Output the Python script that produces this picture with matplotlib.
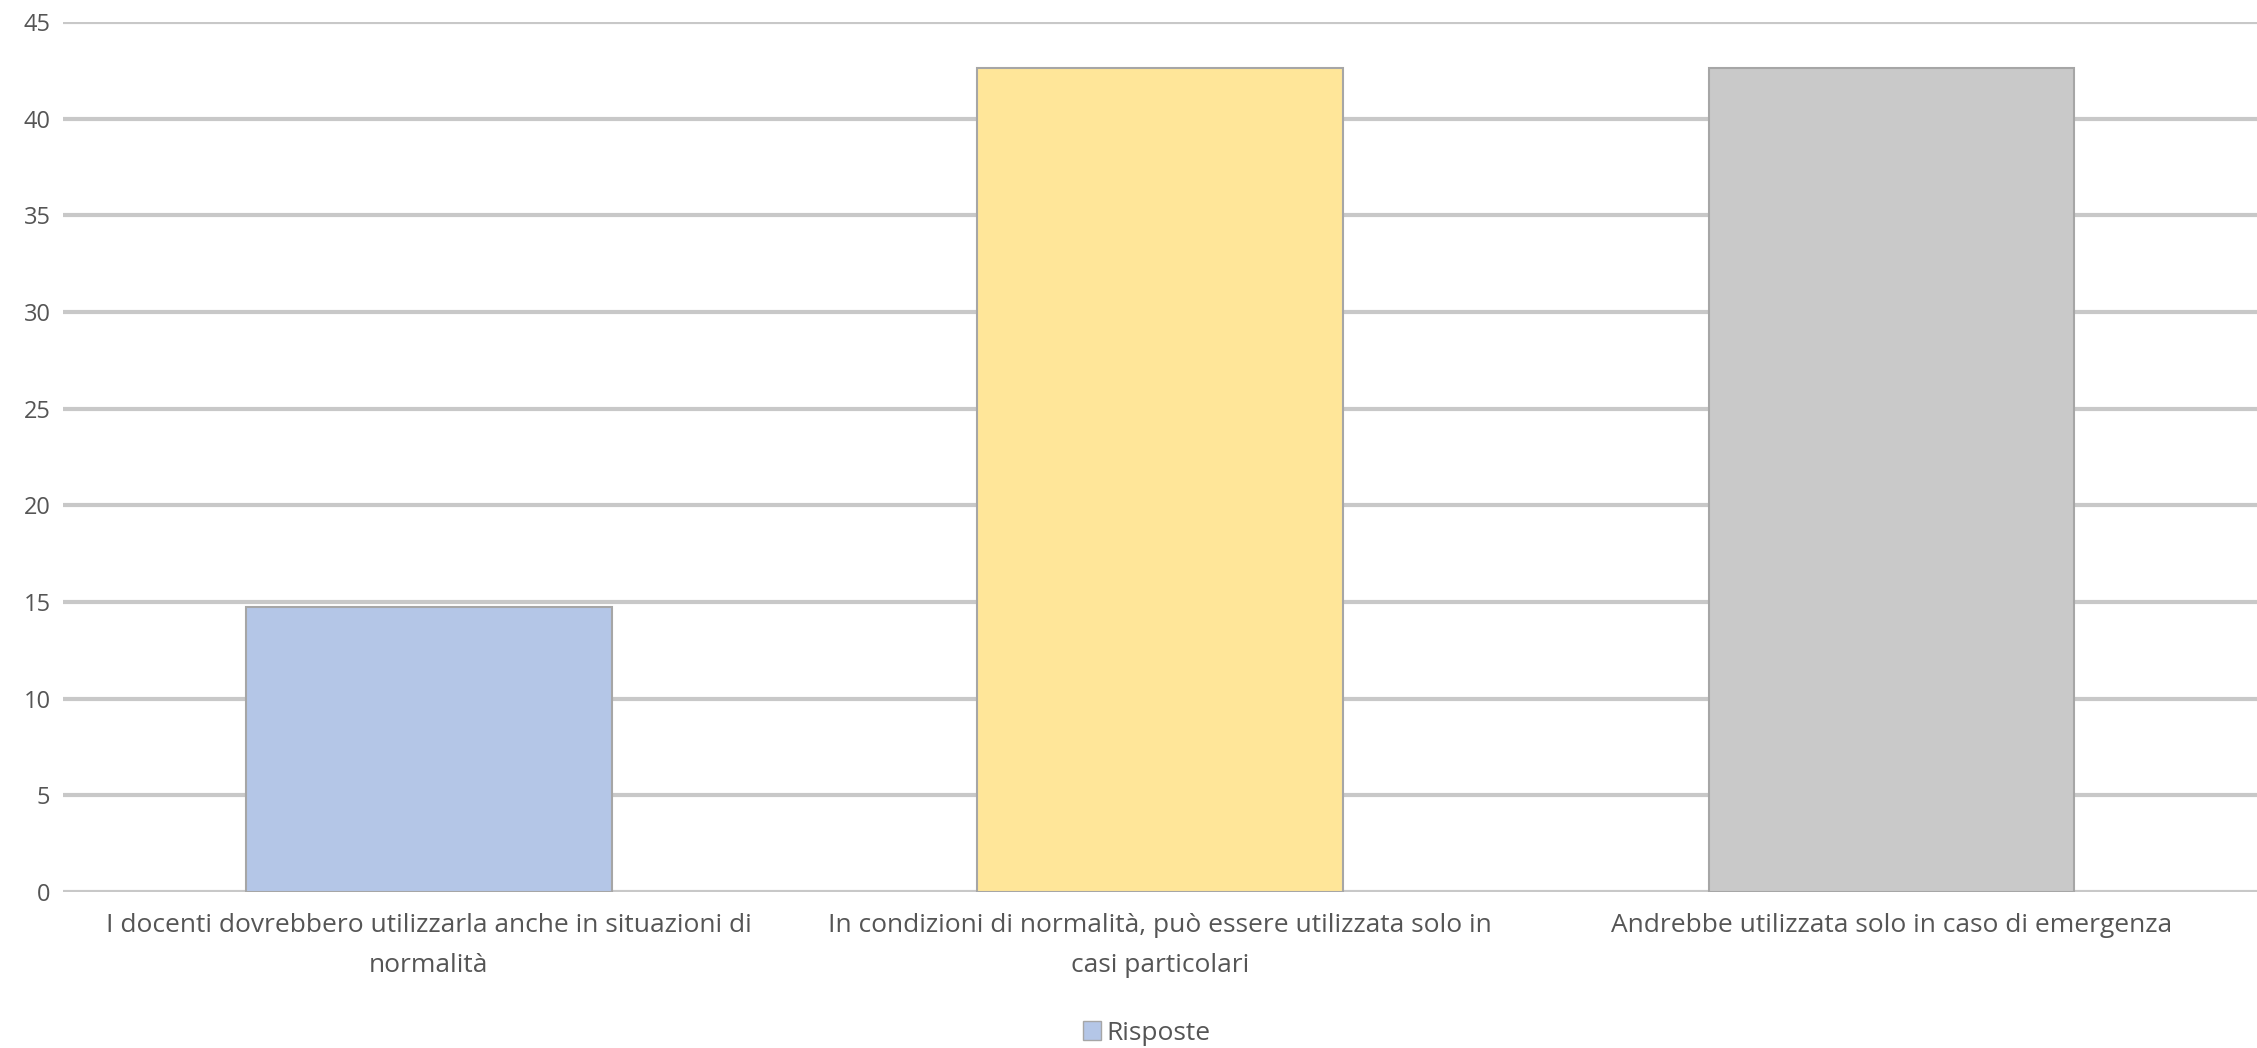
import matplotlib
matplotlib.use("Agg")
import matplotlib.pyplot as plt
from matplotlib.patches import Patch
import numpy as np

categories = [
    "I docenti dovrebbero utilizzarla anche in situazioni di\nnormalità",
    "In condizioni di normalità, può essere utilizzata solo in\ncasi particolari",
    "Andrebbe utilizzata solo in caso di emergenza",
]
values = [14.75, 42.62, 42.62]
bar_colors = ["#b4c6e7", "#ffe699", "#c9c9c9"]
series_name = "Risposte"
y_ticks = [0, 5, 10, 15, 20, 25, 30, 35, 40, 45]

plt.rcParams["font.family"] = ["Open Sans", "DejaVu Sans"]
text_color = "#555555"

fig = plt.figure(figsize=(22.57, 10.48), dpi=100)
ax = fig.add_axes([63 / 2257, 156 / 1048, 1 - 63 / 2257, (892 - 22) / 1048])

x = np.arange(len(categories))
ax.bar(x, values, width=0.5, color=bar_colors, edgecolor="#a6a6a6",
       linewidth=1.5, zorder=3)

ax.set_xlim(-0.5, len(categories) - 0.5)
ax.set_ylim(0, 45)
ax.set_yticks(y_ticks)
ax.set_yticklabels([str(t) for t in y_ticks], fontsize=17, color=text_color)
ax.set_xticks(x)
ax.set_xticklabels(categories, fontsize=19, color=text_color, linespacing=1.8)
ax.tick_params(axis="both", length=0)
ax.tick_params(axis="y", pad=9)
ax.tick_params(axis="x", pad=15)

ax.grid(axis="y", color="#c8c8c8", linewidth=3, zorder=0)
ax.set_axisbelow(True)
for side in ["top", "right", "left", "bottom"]:
    ax.spines[side].set_visible(False)

handle = Patch(facecolor=bar_colors[0], edgecolor="#a6a6a6", label=series_name)
fig.legend(handles=[handle], loc="center", bbox_to_anchor=(0.508, 15 / 1048),
           frameon=False, fontsize=19, labelcolor=text_color,
           handlelength=0.7, handleheight=0.7, handletextpad=0.2)

fig.savefig("out.png", dpi=100, facecolor="white")
